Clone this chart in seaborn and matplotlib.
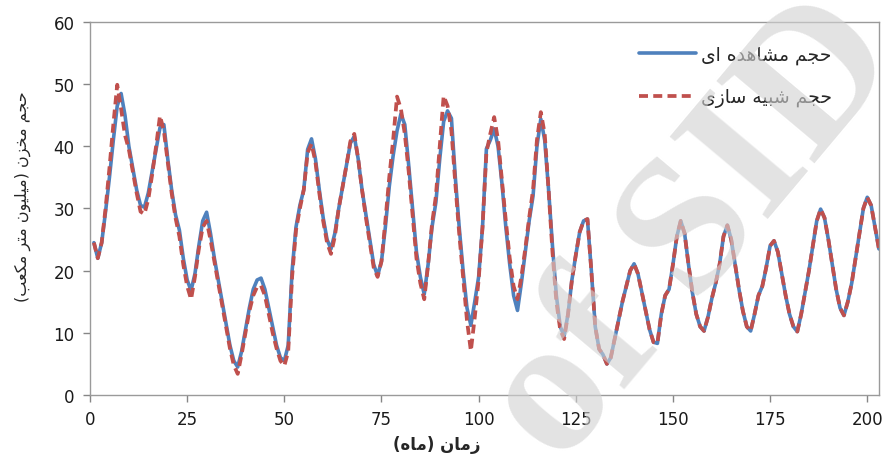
import matplotlib
matplotlib.use("Agg")
import matplotlib.pyplot as plt
import seaborn as sns
import pandas as pd

# monthly reservoir volume (million m3)
observed = [
    24.5, 22.0, 24.5, 29.5, 35.0, 41.0, 46.5, 48.5, 45.0, 40.0,
    36.5, 33.0, 30.5, 30.2, 32.5, 36.0, 39.5, 43.0, 43.5, 38.0,
    33.0, 29.0, 26.5, 22.0, 18.5, 16.8, 19.5, 24.0, 28.0, 29.4,
    26.0, 22.0, 18.5, 15.0, 11.5, 8.0, 5.5, 4.5, 7.0, 10.5,
    14.0, 17.0, 18.5, 18.8, 17.0, 14.0, 11.0, 8.0, 6.0, 5.5,
    8.0, 20.0, 27.0, 30.5, 33.0, 39.5, 41.2, 38.0, 33.0, 28.5,
    25.0, 23.5, 26.0, 30.0, 33.5, 37.0, 40.5, 41.6, 38.0, 33.0,
    29.0, 25.0, 21.0, 19.2, 21.5, 27.0, 33.5, 38.5, 42.5, 45.2,
    43.5, 37.0, 30.0, 23.0, 19.0, 16.2, 21.0, 27.0, 31.0, 38.0,
    44.0, 45.7, 44.5, 35.0, 27.0, 20.0, 14.0, 11.2, 15.0, 19.0,
    27.0, 39.6, 41.0, 42.8, 40.0, 34.0, 27.0, 21.0, 16.0, 13.6,
    18.0, 23.0, 28.0, 32.0, 40.0, 44.4, 41.0, 33.0, 24.0, 16.0,
    11.0, 9.5, 13.0, 18.5, 22.5, 26.2, 28.0, 28.3, 20.0, 11.0,
    7.4, 6.5, 5.0, 6.0, 9.0, 12.0, 15.0, 17.5, 20.0, 21.1,
    19.5, 16.5, 13.5, 10.5, 8.5, 8.3, 13.0, 16.0, 17.0, 21.0,
    25.5, 28.0, 26.0, 21.0, 16.5, 13.0, 11.0, 10.3, 12.5, 15.5,
    18.0, 21.0, 25.5, 27.3, 25.0, 21.0, 17.0, 13.5, 11.0, 10.3,
    13.0, 16.0, 17.5, 20.5, 24.0, 24.8, 23.0, 19.5, 16.0, 13.0,
    11.0, 10.2, 13.0, 16.5, 20.0, 24.0, 28.0, 29.9, 28.5, 25.0,
    21.0, 17.0, 14.0, 12.8, 15.0, 18.0, 22.0, 26.0, 30.0, 31.8,
    30.5, 27.0, 23.5,
]

simulated = [
    24.5, 22.0, 24.5, 30.0, 36.5, 43.5, 49.9, 46.0, 41.8, 39.5,
    36.0, 32.5, 29.5, 29.1, 31.5, 35.5, 40.0, 44.9, 42.5, 37.5,
    32.5, 28.5, 25.5, 21.0, 17.5, 15.4, 19.0, 23.5, 27.0, 28.0,
    25.0, 21.5, 18.0, 14.5, 11.0, 7.5, 4.8, 3.4, 6.5, 10.0,
    13.5, 16.0, 17.4, 17.6, 16.0, 13.0, 10.0, 7.5, 5.5, 4.7,
    7.0, 19.0, 26.5, 30.0, 33.0, 39.0, 40.4, 37.5, 32.5, 28.0,
    24.5, 22.7, 25.5, 30.0, 33.5, 37.0, 40.8, 42.0, 38.0, 33.0,
    28.5, 24.5, 20.5, 19.0, 21.5, 28.0, 35.0, 41.0, 48.0, 46.0,
    42.0, 36.0, 29.0, 22.0, 18.0, 15.4, 21.0, 27.5, 32.0, 40.0,
    48.1, 46.5, 42.5, 34.0, 26.0, 19.0, 12.0, 7.1, 12.5, 18.5,
    27.0, 39.0, 42.0, 44.7, 41.0, 34.5, 28.0, 22.0, 17.5, 15.4,
    19.0, 23.5, 28.5, 33.0, 41.0, 45.5, 42.0, 33.0, 23.0, 15.0,
    10.5, 9.0, 13.0, 18.5, 22.5, 26.2, 28.0, 28.3, 20.0, 11.0,
    7.4, 6.5, 5.0, 6.0, 9.0, 12.0, 15.0, 17.5, 20.0, 21.1,
    19.5, 16.5, 13.5, 10.5, 8.5, 8.3, 13.0, 16.0, 17.0, 21.0,
    25.5, 28.0, 26.0, 21.0, 16.5, 13.0, 11.0, 10.3, 12.5, 15.5,
    18.0, 21.0, 25.5, 27.3, 25.0, 21.0, 17.0, 13.5, 11.0, 10.3,
    13.0, 16.0, 17.5, 20.5, 24.0, 24.8, 23.0, 19.5, 16.0, 13.0,
    11.0, 10.2, 13.0, 16.5, 20.0, 24.0, 28.0, 29.9, 28.5, 25.0,
    21.0, 17.0, 14.0, 12.8, 15.0, 18.0, 22.0, 26.0, 30.0, 31.8,
    30.5, 27.0, 23.5,
]

months = list(range(1, len(observed) + 1))
x_ticks = [0, 25, 50, 75, 100, 125, 150, 175, 200]
y_ticks = [0, 10, 20, 30, 40, 50, 60]

label_obs = "حجم مشاهده ای"
label_sim = "حجم شبیه سازی"
label_x = "زمان (ماه)"
label_y = "حجم مخزن (میلیون متر مکعب)"

# minimal persian shaping (matplotlib has no bidi / joining)
FORMS = {
    "ا": ("\uFE8D", "\uFE8E"),
    "د": ("\uFEA9", "\uFEAA"),
    "ر": ("\uFEAD", "\uFEAE"),
    "ز": ("\uFEAF", "\uFEB0"),
    "و": ("\uFEED", "\uFEEE"),
    "ب": ("\uFE8F", "\uFE90", "\uFE91", "\uFE92"),
    "ت": ("\uFE95", "\uFE96", "\uFE97", "\uFE98"),
    "ج": ("\uFE9D", "\uFE9E", "\uFE9F", "\uFEA0"),
    "ح": ("\uFEA1", "\uFEA2", "\uFEA3", "\uFEA4"),
    "خ": ("\uFEA5", "\uFEA6", "\uFEA7", "\uFEA8"),
    "س": ("\uFEB1", "\uFEB2", "\uFEB3", "\uFEB4"),
    "ش": ("\uFEB5", "\uFEB6", "\uFEB7", "\uFEB8"),
    "ع": ("\uFEC9", "\uFECA", "\uFECB", "\uFECC"),
    "ک": ("\uFB8E", "\uFB8F", "\uFB90", "\uFB91"),
    "ل": ("\uFEDD", "\uFEDE", "\uFEDF", "\uFEE0"),
    "م": ("\uFEE1", "\uFEE2", "\uFEE3", "\uFEE4"),
    "ن": ("\uFEE5", "\uFEE6", "\uFEE7", "\uFEE8"),
    "ه": ("\uFEE9", "\uFEEA", "\uFEEB", "\uFEEC"),
    "ی": ("\uFBFC", "\uFBFD", "\uFBFE", "\uFBFF"),
}


def fa(text):
    out = []
    for i, c in enumerate(text):
        if c not in FORMS:
            out.append(c)
            continue
        prev = text[i - 1] if i > 0 else ""
        nxt = text[i + 1] if i + 1 < len(text) else ""
        jp = prev in FORMS and len(FORMS[prev]) == 4
        jn = nxt in FORMS and len(FORMS[c]) == 4
        f = FORMS[c]
        if jp and jn:
            out.append(f[3])
        elif jp:
            out.append(f[1])
        elif jn:
            out.append(f[2])
        else:
            out.append(f[0])
    s = "".join(reversed(out))
    return s.translate(str.maketrans("()", ")("))


df = pd.DataFrame({"month": months, "obs": observed, "sim": simulated})

sns.set_style("white")
plt.rcParams["font.family"] = ["DejaVu Sans"]

fig = plt.figure(figsize=(8.86, 4.56), dpi=100)
ax = fig.add_axes([0.1016, 0.1316, 0.8904, 0.818])

sns.lineplot(data=df, x="month", y="obs", ax=ax, color="#4F81BD",
             linewidth=2.6, label=fa(label_obs), solid_capstyle="round",
             solid_joinstyle="round")
sns.lineplot(data=df, x="month", y="sim", ax=ax, color="#C0504D",
             linewidth=2.7, label=fa(label_sim), dash_joinstyle="round")
ax.lines[-1].set_dashes([2.4, 1.4])

ax.set_xlim(0, 203)
ax.set_ylim(0, 60)
ax.set_xticks(x_ticks)
ax.set_yticks(y_ticks)
ax.tick_params(axis="both", labelsize=12, colors="#868686", labelcolor="#1a1a1a",
               direction="out", length=5, width=1, pad=6, bottom=True, left=True)
for sp in ax.spines.values():
    sp.set_color("#9a9a9a")
    sp.set_linewidth(1.0)

ax.set_xlabel(fa(label_x), fontsize=12, fontweight="bold")
ax.xaxis.set_label_coords(0.44, -0.108)
ax.set_ylabel(fa(label_y), fontsize=11.5)
ax.yaxis.set_label_coords(-0.075, 0.535)

leg = ax.legend(loc="upper left", bbox_to_anchor=(0.675, 0.985), frameon=False,
                prop={"size": 13.5}, handlelength=3.0, labelspacing=1.25,
                handletextpad=0.3)

# watermark
fig.text(0.785, 0.49, "of SID", family="Liberation Serif", fontweight="bold",
         fontsize=140, rotation=50, color="#d2d2d2", alpha=0.62,
         ha="center", va="center", zorder=10)

fig.savefig("out.png", dpi=100)
